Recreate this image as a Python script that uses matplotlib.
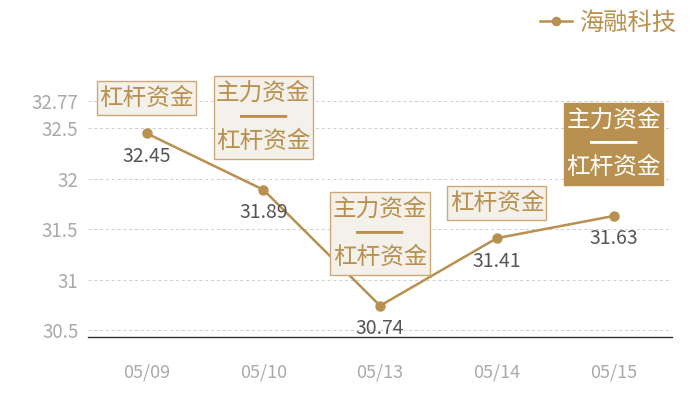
import matplotlib
matplotlib.use("Agg")
import matplotlib.pyplot as plt
from matplotlib.path import Path

plt.rcParams['font.family'] = ['Noto Sans CJK SC', 'DejaVu Sans']

# ============================================================
# Data
# ============================================================
dates = ["05/09", "05/10", "05/13", "05/14", "05/15"]
prices = [32.45, 31.89, 30.74, 31.41, 31.63]
tags = ["杠杆资金", "主力资金\n━━\n杠杆资金", "主力资金\n━━\n杠杆资金",
        "杠杆资金", "主力资金\n━━\n杠杆资金"]
tag_filled = [False, False, False, False, True]
yticks = [30.5, 31, 31.5, 32, 32.5, 32.77]
series_name = "海融科技"

gold = "#b8904f"
box_bg = "#f4f0ea"
box_edge = "#cda978"


# box with more vertical than horizontal padding
def tag_box(x0, y0, width, height, mutation_size):
    px = 0.1 * mutation_size
    py = 0.24 * mutation_size
    x0, y0 = x0 - px, y0 - py
    x1, y1 = x0 + width + 2 * px, y0 + height + 2 * py
    return Path([(x0, y0), (x1, y0), (x1, y1), (x0, y1), (x0, y0)],
                closed=True)


# ============================================================
# Plot
# ============================================================
fig = plt.figure(figsize=(7, 4), dpi=100)
ax = fig.add_axes([0.126, 0.1575, 0.834, 0.59])

x = list(range(len(dates)))
ax.plot(x, prices, color=gold, lw=1.8, marker='o', ms=6.5,
        label=series_name, zorder=3)

ax.set_xlim(-0.5, len(dates) - 0.5)
ax.set_ylim(30.43, 32.77)
ax.set_xticks(x)
ax.set_xticklabels(dates)
ax.set_yticks(yticks)
ax.set_yticklabels([f"{v:g}" for v in yticks])
ax.tick_params(axis='both', length=0, colors="#aaaaaa")
ax.tick_params(axis='x', pad=19, labelsize=13)
ax.tick_params(axis='y', pad=7, labelsize=13.5)

ax.grid(axis='y', ls=(0, (3, 3)), lw=0.7, color="#cccccc")
for s in ["left", "right", "top"]:
    ax.spines[s].set_visible(False)
ax.spines["bottom"].set_color("#333333")
ax.spines["bottom"].set_linewidth(1.0)

# value labels
for xi, v in zip(x, prices):
    ax.annotate(f"{v:.2f}", (xi, v), xytext=(0, -16.5), textcoords='offset points',
                ha='center', va='center', fontsize=14, color="#555555")

# tags
for xi, v, t, filled in zip(x, prices, tags, tag_filled):
    multi = "\n" in t
    off = 26.5 if multi else 17
    if filled:
        bbox = dict(boxstyle=tag_box, fc=gold, ec=gold, lw=1)
        tc = "white"
    else:
        bbox = dict(boxstyle=tag_box, fc=box_bg, ec=box_edge, lw=1)
        tc = gold
    ax.annotate(t, (xi, v), xytext=(0, off), textcoords='offset points',
                ha='center', va='bottom', fontsize=17, color=tc,
                linespacing=1.05, multialignment='center', bbox=bbox,
                annotation_clip=False, zorder=4)

leg = ax.legend(loc='upper right', bbox_to_anchor=(0.997, 1.03),
                bbox_transform=fig.transFigure, frameon=False,
                fontsize=17.5, handlelength=1.3, handletextpad=0.3,
                markerscale=0.9)
for txt in leg.get_texts():
    txt.set_color(gold)

fig.savefig("out.png", dpi=100)
